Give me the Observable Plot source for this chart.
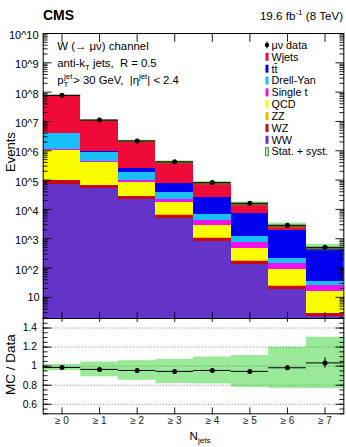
<!DOCTYPE html>
<html>
<head>
<meta charset="utf-8">
<script src="https://cdn.jsdelivr.net/npm/d3@7"></script>
<script src="https://cdn.jsdelivr.net/npm/@observablehq/plot@0.6"></script>
<style>
  body { margin: 0; background: #fff; }
  #chart { position: relative; width: 346px; height: 447px; font-family: "Liberation Sans", Arial, Helvetica, sans-serif; }
  #chart svg { position: absolute; left: 0; overflow: visible; }
</style>
</head>
<body>
<div id="chart"></div>
<script>
const FONT = "Liberation Sans, Arial, Helvetica, sans-serif";

// Jet-multiplicity bins (inclusive)
const binLabels = ["≥ 0", "≥ 1", "≥ 2", "≥ 3", "≥ 4", "≥ 5", "≥ 6", "≥ 7"];

// Simulated processes, stacked bottom to top
const processes = ["WW", "WZ", "ZZ", "QCD", "Single t", "Drell-Yan", "tt̄", "Wjets"];
const processColors = ["#6434c8", "#c80a0a", "#f5b800", "#fcfc00", "#f010f0", "#18c0f8", "#0000f0", "#ef0a3a"];

// Expected events per bin
const ww        = [70800, 50500, 21300, 4790, 805, 127, 18.2, 2.14];
const wz        = [26100, 12400, 5630, 1420, 214, 40.4, 5.3, 0.57];
const zz        = [3700, 2600, 1130, 248, 40, 6.7, 0.9, 0.11];
const qcd       = [922000, 342500, 56750, 10760, 1704, 298, 63.5, 12.8];
const singleTop = [41000, 16600, 15200, 4070, 1425, 290, 51.7, 9.8];
const drellYan  = [2729000, 470400, 81600, 15020, 2371, 429, 67.4, 8.1];
const ttbar     = [243000, 49700, 61200, 38510, 18960, 5905, 1703, 386];
const wjets     = [72760000, 9845000, 1832000, 323300, 52820, 8214, 921, 94.6];

// Observed events
const dataCounts = [77900000, 11170000, 2173000, 421300, 82000, 16200, 2880, 510];

// Lower panel: MC / Data, its statistical error, and relative MC uncertainty (stat. + syst.)
const mcOverData   = [0.986, 0.966, 0.955, 0.945, 0.955, 0.945, 0.983, 1.034];
const ratioStatErr = [0.0002, 0.0003, 0.0007, 0.0015, 0.003, 0.007, 0.018, 0.055];
const mcRelUnc     = [0.033, 0.08, 0.108, 0.134, 0.148, 0.177, 0.22, 0.26];

// Axis ticks
const yDecades = [1, 2, 3, 4, 5, 6, 7, 8, 9, 10];
const ratioTicks = [0.6, 0.8, 1, 1.2, 1.4];
const yDomain = [1.9, 1e10];
const ratioDomain = [0.5, 1.5];

// ---- derived tables ----
const series = [ww, wz, zz, qcd, singleTop, drellYan, ttbar, wjets];
const stackRows = [];
const totals = [];
binLabels.forEach((label, i) => {
  let base = 0;
  series.forEach((s, j) => {
    stackRows.push({i, process: processes[j], y1: Math.max(base, yDomain[0]), y2: base + s[i]});
    base += s[i];
  });
  totals.push(base);
});
const binRows = binLabels.map((label, i) => ({
  i, label, xc: i + 0.5, x2: i + 1,
  total: totals[i], data: dataCounts[i],
  r: mcOverData[i], rErr: ratioStatErr[i], unc: mcRelUnc[i]
}));
const binCenters = binRows.map(d => d.xc);
const majorY = yDecades.map(k => 10 ** k);
const minorY = d3.range(0, 10).flatMap(k => d3.range(2, 10).map(m => m * 10 ** k)).filter(v => v >= yDomain[0] && v <= yDomain[1]);
const ratioMinor = d3.range(0.5, 1.5001, 0.05).map(v => +v.toFixed(2));

// straight tick segment for vector marks
const tickShape = {draw(context, l) { context.moveTo(0, 0); context.lineTo(0, -l); }};
const vtick = (values, channel, frameAnchor, rotate, length) =>
  Plot.vector(values, {[channel]: d => d, frameAnchor, rotate, length, anchor: "start", shape: tickShape, stroke: "black", strokeWidth: 0.9});

const common = {
  width: 346,
  marginLeft: 42.7,
  marginRight: 2.7,
  style: {fontFamily: FONT, fontSize: "10px", background: "transparent", overflow: "visible"}
};

// ---- main panel ----
const main = Plot.plot({
  ...common,
  height: 318,
  marginTop: 33,
  marginBottom: 0,
  x: {domain: [0, 8], axis: null},
  y: {type: "log", domain: yDomain, axis: null, clamp: true},
  color: {domain: processes, range: processColors},
  marks: [
    Plot.rect(stackRows, {x1: "i", x2: d => d.i + 1, y1: "y1", y2: "y2", fill: "process", shapeRendering: "crispEdges"}),
    Plot.rect(binRows, {x1: "i", x2: "x2", y1: d => d.total * (1 - d.unc), y2: d => d.total * (1 + d.unc), fill: "#00c800", fillOpacity: 0.4}),
    Plot.ruleY(binRows, {x1: "i", x2: "x2", y: "data", stroke: "black", strokeWidth: 1}),
    Plot.dot(binRows, {x: "xc", y: "data", r: 2.5, fill: "black"}),
    vtick(majorY, "y", "left", 90, 8),
    vtick(minorY, "y", "left", 90, 4),
    vtick(majorY, "y", "right", -90, 8),
    vtick(minorY, "y", "right", -90, 4),
    vtick(binCenters, "x", "top", 180, 8),
    vtick(binCenters, "x", "bottom", 0, 6),
    Plot.text(yDecades.filter(k => k > 1), {y: k => 10 ** k, text: k => "10^" + k, frameAnchor: "left", textAnchor: "end", dx: -4.6, dy: 2, fontSize: 11, fill: "black", ariaLabel: "y-labels-power"}),
    Plot.text(yDecades.filter(k => k === 1), {y: k => 10 ** k, text: () => "10", frameAnchor: "left", textAnchor: "end", dx: -3.5, fontSize: 11, fill: "black"}),
    Plot.frame({stroke: "black", strokeWidth: 1})
  ]
});
main.style.top = "0px";

// superscript exponents on the log-axis labels
main.querySelectorAll('g[aria-label="y-labels-power"] text').forEach(el => {
  const [base, exp] = el.textContent.split("^");
  el.textContent = base;
  const ts = document.createElementNS("http://www.w3.org/2000/svg", "tspan");
  ts.setAttribute("dy", "-4.6");
  ts.setAttribute("font-size", "7.7");
  ts.textContent = exp;
  el.appendChild(ts);
});

// ---- ratio panel ----
const ratio = Plot.plot({
  ...common,
  height: 129,
  marginTop: 0,
  marginBottom: 33.7,
  x: {domain: [0, 8], axis: null},
  y: {domain: ratioDomain, axis: null},
  marks: [
    Plot.ruleY(ratioTicks, {stroke: "#555", strokeWidth: 0.8, strokeDasharray: "1,2"}),
    Plot.rect(binRows, {x1: "i", x2: "x2", y1: d => d.r * (1 - d.unc), y2: d => d.r * (1 + d.unc), fill: "#00c800", fillOpacity: 0.4}),
    Plot.ruleY(binRows, {x1: "i", x2: "x2", y: "r", stroke: "black", strokeWidth: 1}),
    Plot.ruleX(binRows, {x: "xc", y1: d => d.r - d.rErr, y2: d => d.r + d.rErr, stroke: "black", strokeWidth: 1}),
    Plot.dot(binRows, {x: "xc", y: "r", r: 2.5, fill: "black"}),
    vtick(ratioTicks, "y", "left", 90, 8),
    vtick(ratioMinor, "y", "left", 90, 4),
    vtick(ratioTicks, "y", "right", -90, 8),
    vtick(ratioMinor, "y", "right", -90, 4),
    vtick(binCenters, "x", "bottom", 0, 6),
    vtick(binCenters, "x", "top", 180, 3),
    Plot.text(ratioTicks, {y: d => d, text: d => d === 1 ? "1" : d.toFixed(1), frameAnchor: "left", textAnchor: "end", dx: -6.2, fontSize: 10.3, fill: "black"}),
    Plot.text(binRows, {x: "xc", text: "label", frameAnchor: "bottom", dy: 10, fontSize: 10, fill: "#222"}),
    Plot.frame({stroke: "black", strokeWidth: 1})
  ]
});
ratio.style.top = "318px";

const chart = document.getElementById("chart");
chart.appendChild(main);
chart.appendChild(ratio);

// ---- text layer: header, annotations, legend, axis titles ----
const ov = d3.select(chart).append("svg")
  .attr("width", 346).attr("height", 447)
  .style("top", "0px").style("pointer-events", "none")
  .attr("font-family", FONT).attr("fill", "black");

function rich(x, y, parts, opt = {}) {
  const size = opt.size || 11;
  const t = ov.append("text").attr("x", x).attr("y", y)
    .attr("font-size", size).attr("text-anchor", opt.anchor || "start")
    .style("white-space", "pre");
  if (opt.weight) t.attr("font-weight", opt.weight);
  if (opt.rotate) t.attr("transform", `rotate(${opt.rotate},${x},${y})`);
  let shift = 0;
  for (const p of parts) {
    const s = typeof p === "string" ? {text: p} : p;
    const target = s.sup ? -0.42 : s.sub ? 0.3 : 0;
    const ts = t.append("tspan").text(s.text);
    const dy = (target - shift) * size;
    if (dy) ts.attr("dy", dy.toFixed(2));
    if (s.sup || s.sub) ts.attr("font-size", (size * 0.7).toFixed(2));
    shift = target;
  }
  return t;
}

// header
rich(43, 19.5, ["CMS"], {size: 14, weight: "bold"});
rich(343, 19.5, ["19.6 fb", {text: "-1", sup: true}, " (8 TeV)"], {size: 11.6, anchor: "end"});

// selection annotations
rich(57.3, 50, ["W (→ μν) channel"], {size: 11.4});
rich(57.3, 67, ["anti-k", {text: "T", sub: true}, " jets,  R = 0.5"], {size: 11.3});
rich(57.3, 84, ["p"], {size: 11.3});
rich(64, 78.6, ["jet"], {size: 7.9});
rich(63.6, 87.2, ["T"], {size: 7.9});
rich(73.3, 84, ["> 30 GeV,  |η", {text: "jet", sup: true}, "| < 2.4"], {size: 11.3});

// legend
const legendItems = [{label: "μν data", kind: "data"}]
  .concat(processes.map((p, j) => ({label: p, kind: "fill", color: processColors[j]})).reverse())
  .concat([{label: "Stat. + syst.", kind: "band"}]);
legendItems.forEach((item, n) => {
  const cy = 45 + n * 11.85;
  if (item.kind === "data") {
    ov.append("line").attr("x1", 267).attr("x2", 267).attr("y1", cy - 3.5).attr("y2", cy + 3.5).attr("stroke", "black");
    ov.append("circle").attr("cx", 267).attr("cy", cy).attr("r", 2.2).attr("fill", "black");
  } else if (item.kind === "fill") {
    ov.append("rect").attr("x", 265.5).attr("y", cy - 4).attr("width", 3).attr("height", 8).attr("fill", item.color);
  } else {
    ov.append("rect").attr("x", 265.5).attr("y", cy - 4).attr("width", 3).attr("height", 8)
      .attr("fill", "#a8eca8").attr("stroke", "#2a8a2a").attr("stroke-width", 0.8);
  }
  rich(271.5, cy + 3.8, [item.label], {size: 10.8});
});

// axis titles
rich(14.5, 172, ["Events"], {size: 13, rotate: -90});
rich(15, 395, ["MC / Data"], {size: 13.5, rotate: -90});
rich(189.5, 440, ["N", {text: "jets", sub: true}], {size: 11.6});
</script>
</body>
</html>
